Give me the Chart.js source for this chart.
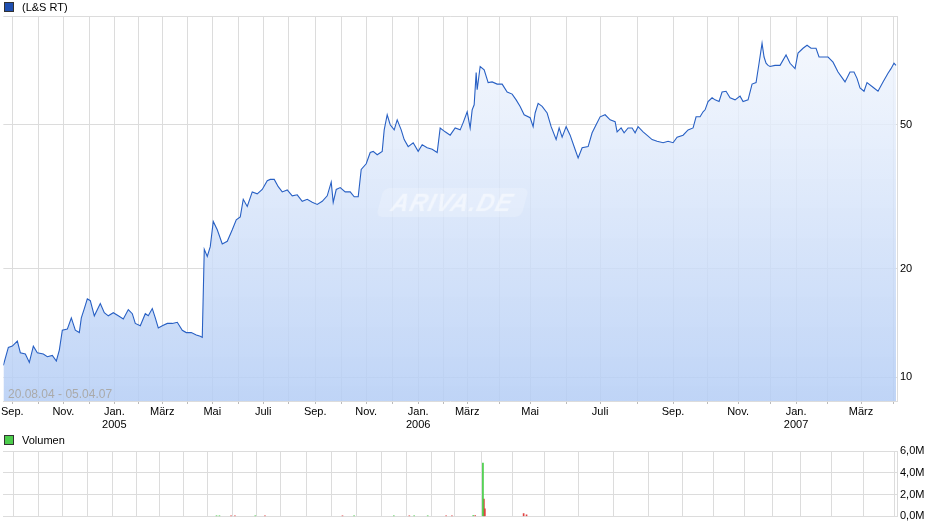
<!DOCTYPE html>
<html>
<head>
<meta charset="utf-8">
<script src="https://cdn.jsdelivr.net/npm/chart.js@4"></script>
<style>
  body { margin: 0; background: #fff; font-family: "Liberation Sans", Arial, sans-serif; }
  #wrap { position: relative; width: 940px; height: 526px; }
  canvas { position: absolute; left: 0; }
  .legend { position: absolute; left: 4px; font-size: 11px; color: #000; }
  .legend span { display: inline-block; width: 8px; height: 8px; margin-right: 8px; vertical-align: -1px; border: 1px solid #333; }
  #range { position: absolute; left: 8px; top: 387px; font-size: 12px; color: #aaa; }
  #mark { position: absolute; left: 380px; top: 188px; width: 145px; height: 29px; background: rgba(255,255,255,0.2);
          border-radius: 6px; transform: skewX(-15deg); color: rgba(255,255,255,0.5); font: italic bold 24px "Liberation Sans", Arial;
          text-align: center; line-height: 29px; letter-spacing: 1px; }
</style>
</head>
<body>
<div id="wrap">
  <canvas id="priceChart" width="940" height="430" style="top:0"></canvas>
  <canvas id="volChart" width="940" height="96" style="top:430px"></canvas>
  <div class="legend" style="top:1px"><span style="background:#1f4fb0"></span>(L&amp;S RT)</div>
  <div class="legend" style="top:434px"><span style="background:#4ccc4c"></span>Volumen</div>
  <div id="range">20.08.04 - 05.04.07</div>
  <div id="mark">ARIVA.DE</div>
</div>
<script>
// t = trading-day position since 20.08.04
const priceT = [0,5,9,14,17,22,26,30,34,40,44,49,53,56,59,64,68,72,76,78,81,84,87,91,97,101,105,110,115,120,125,129,132,137,142,145,149,152,155,159,164,169,174,179,183,188,193,197,199,
  201,204,207,210,214,219,224,229,233,237,240,244,249,254,259,264,267,271,275,279,284,289,294,299,304,309,314,319,324,328,330,333,337,342,347,351,355,358,363,367,370,374,379,381,384,387,391,394,398,401,405,410,415,419,424,429,434,437,442,447,452,457,460,464,
  467,469,471,473,474,477,481,485,489,494,499,504,509,513,517,521,527,530,532,535,539,544,548,553,556,559,563,567,572,575,579,585,589,593,597,602,607,612,614,618,621,625,629,632,635,640,645,649,654,660,665,670,674,680,685,690,693,697,700,
  702,705,709,712,716,719,723,727,732,737,740,745,749,753,756,759,761,763,765,767,772,777,783,787,792,795,800,804,808,813,816,820,825,830,835,839,842,847,851,854,857,861,864,870,875,880,885,888,891,893];
const priceVal = [10.8,12.1,12.2,12.6,11.7,11.6,11.0,12.2,11.7,11.6,11.4,11.5,11.1,11.9,13.5,13.6,14.6,13.5,13.3,14.6,15.5,16.5,16.3,14.8,16.0,15.1,14.8,15.1,14.8,14.5,15.4,15.0,14.1,13.9,15.0,14.8,15.5,14.6,13.7,13.9,14.1,14.1,14.2,13.5,13.3,13.3,13.1,13.0,12.9,
  22.6,21.6,23.0,27.0,25.6,23.4,23.8,25.6,27.3,27.8,31.1,29.7,32.6,32.2,33.1,35.0,35.3,35.3,33.7,32.6,33.0,31.8,32.0,30.7,31.1,30.5,30.1,30.7,31.8,34.7,30.5,33.1,33.5,32.6,32.6,31.6,31.6,37.6,39.0,41.9,42.2,41.3,42.2,48.4,53.3,50.0,48.4,51.6,48.4,45.5,43.5,44.6,42.2,44.0,43.2,42.8,41.9,49.0,47.8,46.8,49.0,48.4,50.7,54.3,
  49.0,55.0,56.8,69.7,62.5,72.5,71.0,65.4,65.7,64.8,64.8,61.6,60.8,58.6,56.2,53.3,52.3,49.4,53.9,57.3,56.2,53.9,49.4,45.5,49.0,46.2,49.4,46.8,42.7,40.5,43.2,43.5,47.5,50.0,52.6,53.3,51.6,51.0,47.8,49.0,47.5,49.0,49.0,47.5,49.4,47.8,46.5,45.5,45.0,44.6,45.0,44.6,46.2,46.8,48.4,49.0,52.6,52.6,54.3,
  55.0,58.0,59.4,58.6,58.0,61.6,61.9,59.4,58.6,60.0,58.0,58.6,64.8,65.4,74.0,84.0,77.0,74.0,73.0,72.5,73.0,73.0,78.0,74.0,71.5,79.0,81.4,83.0,81.4,81.4,77.0,77.0,77.0,74.5,70.0,67.5,65.7,70.0,70.0,67.2,63.2,61.9,65.4,63.5,61.9,65.7,69.4,71.5,74.0,73.0];

const monthT = [9,35,60,86,111,135,159,184,209,235,260,285,312,338,363,389,415,440,464,496,527,563,597,634,670,704,735,767,793,824,858,890];
const monthLabels = ['Sep.','','Nov.','',['Jan.','2005'],'','März','','Mai','','Juli','','Sep.','','Nov.','',['Jan.','2006'],'','März','','Mai','','Juli','','Sep.','','Nov.','',['Jan.','2007'],'','März',''];
const priceTicks = [10, 20, 50];

const volUpT = [206,209,246,348,389,410,424,471,481];
const volUp = [0.06e6,0.05e6,0.04e6,0.04e6,0.05e6,0.04e6,0.05e6,0.08e6,4.9e6];
const volDownT = [221,225,256,336,405,443,449,473,482,483,523,526];
const volDown = [0.05e6,0.04e6,0.05e6,0.05e6,0.06e6,0.05e6,0.04e6,0.07e6,1.6e6,0.7e6,0.25e6,0.15e6];
const volTicks = [0, 2e6, 4e6, 6e6];

const tickFont = { family: 'Liberation Sans', size: 11 };
const xMin = 0, xMax = 894;

function monthAxis(showLabels) {
  return {
    type: 'linear', min: xMin, max: xMax,
    afterBuildTicks: s => { s.ticks = monthT.map(v => ({ value: v })); },
    afterFit: s => { s.height = showLabels ? 29 : 9; },
    grid: { color: '#dcdcdc', drawTicks: showLabels, tickLength: 3, tickColor: '#bbb' },
    border: { color: '#dcdcdc' },
    ticks: {
      display: showLabels, color: '#000', font: tickFont, padding: 1, maxRotation: 0, autoSkip: false,
      callback: (v, i) => monthLabels[i]
    }
  };
}

new Chart(document.getElementById('priceChart'), {
  type: 'line',
  data: {
    datasets: [{
      data: priceT.map((t, i) => ({ x: t, y: priceVal[i] })),
      borderColor: '#2860c4', borderWidth: 1.1, pointRadius: 0, tension: 0, fill: 'start',
      backgroundColor: ctx => {
        const a = ctx.chart.chartArea;
        if (!a) return 'rgba(200,216,245,0.7)';
        const g = ctx.chart.ctx.createLinearGradient(0, a.top, 0, a.bottom);
        g.addColorStop(0, 'rgba(246,249,254,0.8)');
        g.addColorStop(1, 'rgba(180,205,245,0.85)');
        return g;
      }
    }]
  },
  options: {
    responsive: false, animation: false,
    layout: { padding: { left: 3, top: 16, right: 0, bottom: 0 } },
    plugins: { legend: { display: false }, tooltip: { enabled: false } },
    scales: {
      x: monthAxis(true),
      y: {
        type: 'logarithmic', position: 'right', min: 8.6, max: 100,
        afterBuildTicks: s => { s.ticks = priceTicks.concat([100]).map(v => ({ value: v })); },
        afterFit: s => { s.width = 43; },
        grid: { color: '#dcdcdc', drawTicks: false },
        border: { color: '#dcdcdc' },
        ticks: { color: '#000', font: tickFont, padding: 3, callback: v => priceTicks.includes(v) ? String(v) : '' }
      }
    }
  }
});

new Chart(document.getElementById('volChart'), {
  type: 'bar',
  data: {
    datasets: [
      { data: volUpT.map((t, i) => ({ x: t, y: volUp[i] })), backgroundColor: '#44cc44', barThickness: 1, grouped: false },
      { data: volDownT.map((t, i) => ({ x: t, y: volDown[i] })), backgroundColor: '#e04040', barThickness: 1, grouped: false }
    ]
  },
  options: {
    responsive: false, animation: false,
    layout: { padding: { left: 3, top: 21, right: 0, bottom: 0 } },
    plugins: { legend: { display: false }, tooltip: { enabled: false } },
    scales: {
      x: monthAxis(false),
      y: {
        position: 'right', min: 0, max: 6e6,
        afterBuildTicks: s => { s.ticks = volTicks.map(v => ({ value: v })); },
        afterFit: s => { s.width = 43; },
        grid: { color: '#dcdcdc', drawTicks: false },
        border: { color: '#dcdcdc' },
        ticks: { color: '#000', font: tickFont, padding: 3, callback: v => (v / 1e6).toFixed(1).replace('.', ',') + 'M' }
      }
    }
  }
});
</script>
</body>
</html>
